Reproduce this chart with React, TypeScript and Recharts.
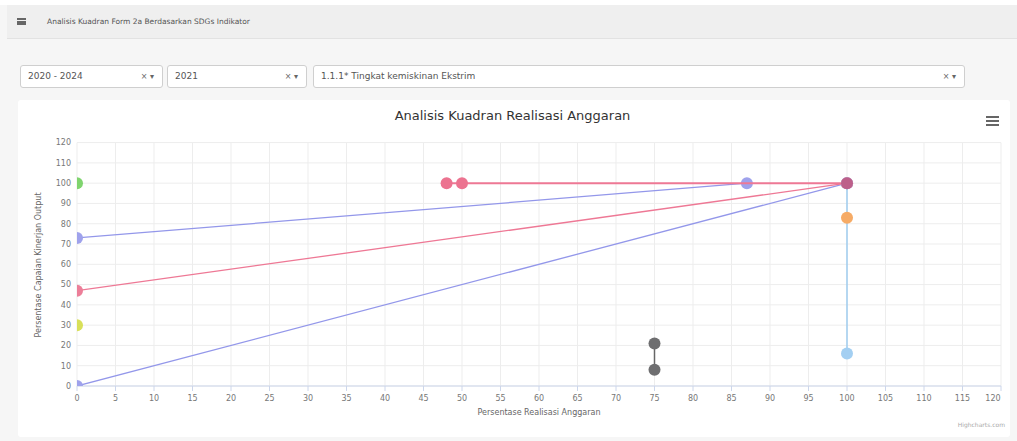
import React from "react";
import { ScatterChart, Scatter, XAxis, YAxis, CartesianGrid } from "recharts";

// ---- data ----
const xTicks = [0, 5, 10, 15, 20, 25, 30, 35, 40, 45, 50, 55, 60, 65, 70, 75, 80, 85, 90, 95, 100, 105, 110, 115, 120];
const yTicks = [0, 10, 20, 30, 40, 50, 60, 70, 80, 90, 100, 110, 120];

const lightBlueSeries = [{ x: 100, y: 16 }, { x: 100, y: 100 }];
const graySeries = [{ x: 75, y: 21 }, { x: 75, y: 8 }];
const greenSeries = [{ x: 0, y: 100 }];
const orangeSeries = [{ x: 100, y: 83 }];
const purpleUpperSeries = [{ x: 0, y: 73 }, { x: 87, y: 100 }];
const purpleLowerSeries = [{ x: 0, y: 0 }, { x: 100, y: 100 }];
const pinkSlopeSeries = [{ x: 0, y: 47 }, { x: 100, y: 100 }];
const pinkFlatSeries = [{ x: 48, y: 100 }, { x: 50, y: 100 }, { x: 100, y: 100 }];
const yellowSeries = [{ x: 0, y: 30 }];
const mauveSeries = [{ x: 100, y: 100 }];

const FONT = "'DejaVu Sans', 'Liberation Sans', sans-serif";

// plot-area layout (matches chart margins)
const MARGIN = { top: 142.6, right: 16, bottom: 25, left: 37 };
const Y_AXIS_W = 40;
const X_AXIS_H = 30;
const CHART_W = 1017;
const CHART_H = 441;
const PLOT = {
  x: MARGIN.left + Y_AXIS_W,
  y: MARGIN.top,
  w: CHART_W - MARGIN.left - Y_AXIS_W - MARGIN.right,
  h: CHART_H - MARGIN.top - MARGIN.bottom - X_AXIS_H,
};

let clipCounter = 0;
const dot = (color: string) => (props: any) => {
  const id = `dotclip-${clipCounter++}`;
  return (
    <g>
      <defs>
        <clipPath id={id}>
          <rect x={PLOT.x} y={PLOT.y} width={PLOT.w} height={PLOT.h} />
        </clipPath>
      </defs>
      <circle cx={props.cx} cy={props.cy} r={6} fill={color} clipPath={`url(#${id})`} />
    </g>
  );
};

const XTick = (props: any) => {
  const { x, y, payload } = props;
  const shift = payload.value === 120 ? -8 : 0;
  return (
    <text x={x + shift} y={y + 8} textAnchor="middle" fontSize={8} fill="#777" fontFamily={FONT}>
      {payload.value}
    </text>
  );
};

const SelectBox = ({ left, width, text }: { left: number; width: number; text: string }) => (
  <div
    style={{
      position: "absolute",
      left,
      top: 65,
      width,
      height: 23,
      boxSizing: "border-box",
      border: "1px solid #cfcfcf",
      borderRadius: 3,
      background: "#fff",
      fontFamily: FONT,
      fontSize: 9,
      color: "#555",
      lineHeight: "21px",
      paddingLeft: 7,
    }}
  >
    {text}
    <span style={{ position: "absolute", right: 8, top: 0, fontSize: 8, color: "#666" }}>× ▾</span>
  </div>
);

export default function App() {
  return (
    <div style={{ position: "fixed", left: 0, top: 0, width: 1017, height: 441, background: "#f6f6f6", overflow: "hidden" }}>
      {/* header bar */}
      <div style={{ position: "absolute", left: 0, top: 0, width: 1017, height: 5, background: "#fff" }} />
      <div
        style={{
          position: "absolute",
          left: 7,
          top: 5,
          width: 1010,
          height: 33,
          background: "#efefef",
          borderBottom: "1px solid #e2e2e2",
          fontFamily: FONT,
          fontSize: 7.5,
          color: "#555",
        }}
      >
        <div style={{ position: "absolute", left: 10, top: 13, width: 9, height: 7, borderTop: "2px solid #666", borderBottom: "2px solid #666", boxSizing: "border-box" }} />
        <div style={{ position: "absolute", left: 10, top: 16, width: 9, height: 1.5, background: "#666" }} />
        <div style={{ position: "absolute", left: 40, top: 12 }}>Analisis Kuadran Form 2a Berdasarkan SDGs Indikator</div>
      </div>

      <SelectBox left={20} width={143} text="2020 - 2024" />
      <SelectBox left={167} width={140} text="2021" />
      <SelectBox left={313} width={652} text="1.1.1* Tingkat kemiskinan Ekstrim" />

      {/* chart card */}
      <div style={{ position: "absolute", left: 18, top: 100, width: 992, height: 337, background: "#fff", borderRadius: 3 }} />

      <div style={{ position: "absolute", left: 0, top: 108, width: 1017, textAlign: "center", paddingLeft: 4, fontFamily: FONT, fontSize: 13, color: "#333" }}>
        Analisis Kuadran Realisasi Anggaran
      </div>
      {/* context menu icon */}
      <div style={{ position: "absolute", left: 986, top: 116, width: 13, height: 10, borderTop: "2px solid #666", borderBottom: "2px solid #666", boxSizing: "border-box" }} />
      <div style={{ position: "absolute", left: 986, top: 120, width: 13, height: 2, background: "#666" }} />

      <div style={{ position: "absolute", left: 0, top: 0 }}>
        <ScatterChart width={CHART_W} height={CHART_H} margin={MARGIN}>
          <CartesianGrid stroke="#ededed" />
          <XAxis
            type="number"
            dataKey="x"
            domain={[0, 120]}
            ticks={xTicks}
            allowDataOverflow
            interval={0}
            height={X_AXIS_H}
            axisLine={{ stroke: "#ccd6eb" }}
            tickLine={{ stroke: "#ccd6eb" }}
            tickSize={5}
            tick={<XTick />}
          />
          <YAxis
            type="number"
            dataKey="y"
            domain={[0, 120]}
            ticks={yTicks}
            allowDataOverflow
            interval={0}
            width={Y_AXIS_W}
            axisLine={false}
            tickLine={false}
            tickSize={0}
            tickMargin={6}
            tick={{ fontSize: 8, fill: "#777", fontFamily: FONT }}
          />
          <Scatter data={purpleLowerSeries} line={{ stroke: "#9397ea", strokeWidth: 1.3 }} shape={dot("#9fa2ec")} isAnimationActive={false} />
          <Scatter data={purpleUpperSeries} line={{ stroke: "#9397ea", strokeWidth: 1.3 }} shape={dot("#9fa2ec")} isAnimationActive={false} />
          <Scatter data={pinkSlopeSeries} line={{ stroke: "#ee7895", strokeWidth: 1.3 }} shape={dot("#ec7f99")} isAnimationActive={false} />
          <Scatter data={pinkFlatSeries} line={{ stroke: "#ee7895", strokeWidth: 2 }} shape={dot("#ec7390")} isAnimationActive={false} />
          <Scatter data={lightBlueSeries} line={{ stroke: "#92c6ee", strokeWidth: 1.3 }} shape={dot("#a3cff2")} isAnimationActive={false} />
          <Scatter data={graySeries} line={{ stroke: "#666", strokeWidth: 1.5 }} shape={dot("#6e6e70")} isAnimationActive={false} />
          <Scatter data={greenSeries} shape={dot("#7fd46e")} isAnimationActive={false} />
          <Scatter data={orangeSeries} shape={dot("#f6ab66")} isAnimationActive={false} />
          <Scatter data={yellowSeries} shape={dot("#d8e05a")} isAnimationActive={false} />
          <Scatter data={mauveSeries} shape={dot("#bd5f8a")} isAnimationActive={false} />
        </ScatterChart>
      </div>

      {/* axis titles */}
      <div
        style={{
          position: "absolute",
          left: 38,
          top: 265,
          transform: "translate(-50%, -50%) rotate(-90deg)",
          whiteSpace: "nowrap",
          fontFamily: FONT,
          fontSize: 8,
          color: "#666",
        }}
      >
        Persentase Capaian Kinerjan Output
      </div>
      <div style={{ position: "absolute", left: 539, top: 408, transform: "translateX(-50%)", whiteSpace: "nowrap", fontFamily: FONT, fontSize: 8, color: "#666" }}>
        Persentase Realisasi Anggaran
      </div>
      <div style={{ position: "absolute", right: 12, top: 421, fontFamily: FONT, fontSize: 6, color: "#aaa" }}>Highcharts.com</div>
    </div>
  );
}
